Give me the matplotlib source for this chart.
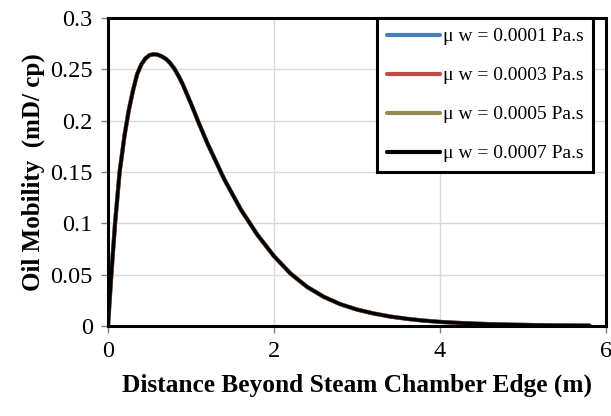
import numpy as np
import matplotlib.pyplot as plt

plt.rcParams['font.family'] = ['Liberation Serif', 'DejaVu Serif']

# 油流动性随离蒸汽腔边缘距离的变化（四种水粘度下曲线重合）
distance = [0.0, 0.04, 0.085, 0.14, 0.20, 0.25, 0.30, 0.35, 0.40, 0.45, 0.50,
            0.55, 0.60, 0.65, 0.70, 0.75, 0.80, 0.85, 0.90, 1.0, 1.1, 1.2,
            1.4, 1.6, 1.8, 2.0, 2.2, 2.4, 2.6, 2.8, 3.0, 3.2, 3.4, 3.6,
            3.8, 4.0, 4.2, 4.4, 4.6, 4.8, 5.0, 5.2, 5.4, 5.6, 5.8]
mobility = [0.0, 0.05, 0.10, 0.15, 0.186, 0.21, 0.229, 0.245, 0.2545, 0.2605, 0.2638,
            0.2647, 0.2642, 0.2625, 0.26, 0.256, 0.2505, 0.2435, 0.2355, 0.2165, 0.1965, 0.1775,
            0.143, 0.1135, 0.0888, 0.068, 0.051, 0.038, 0.0284, 0.0212, 0.016, 0.0122, 0.0092, 0.0070,
            0.0053, 0.0040, 0.0031, 0.0024, 0.0018, 0.0014, 0.0011, 0.0008, 0.0006, 0.0005, 0.0004]

labels = ['μ w = 0.0001 Pa.s', 'μ w = 0.0003 Pa.s',
          'μ w = 0.0005 Pa.s', 'μ w = 0.0007 Pa.s']
colors = ['#4A7EBB', '#BE4B48', '#948A54', '#000000']
widths = [3.0, 3.0, 2.8, 2.5]

fig = plt.figure(figsize=(6.11, 4.16), dpi=100)
ax = fig.add_axes([108 / 611, 1 - 326 / 416, 498 / 611, 308 / 416])

for lab, c, w in zip(labels, colors, widths):
    ax.plot(distance, mobility, color=c, lw=w, label=lab,
            solid_capstyle='round', solid_joinstyle='round')

ax.set_xlim(0, 6)
ax.set_ylim(0, 0.3)
ax.set_xticks([0, 2, 4, 6])
ax.set_yticks(np.arange(0, 0.31, 0.05))
ax.set_yticklabels(['0', '0.05', '0.1', '0.15', '0.2', '0.25', '0.3'])
ax.grid(True, color='#D9D9D9', lw=1.0)
ax.set_axisbelow(True)
for s in ax.spines.values():
    s.set_linewidth(2.2)
    s.set_color('black')
ax.tick_params(direction='out', length=5, width=1, color='#808080',
               labelsize=17.5, pad=6)

ax.set_xlabel('Distance Beyond Steam Chamber Edge (m)', fontsize=18.3,
              fontweight='bold', labelpad=8)
ax.set_ylabel('Oil Mobility  (mD/ cp)', fontsize=18, fontweight='bold',
              labelpad=4)

leg = ax.legend(loc='upper right', bbox_to_anchor=(593 / 611, 1 - 18 / 416),
                bbox_transform=fig.transFigure, borderaxespad=0,
                fontsize=14, handlelength=2.7, handletextpad=0.15,
                labelspacing=1.1, borderpad=0.5, fancybox=False,
                framealpha=1)
leg.get_frame().set_edgecolor('black')
leg.get_frame().set_linewidth(2.2)
for h in leg.get_lines():
    h.set_linewidth(3.0)

fig.savefig('out.png', dpi=100)
